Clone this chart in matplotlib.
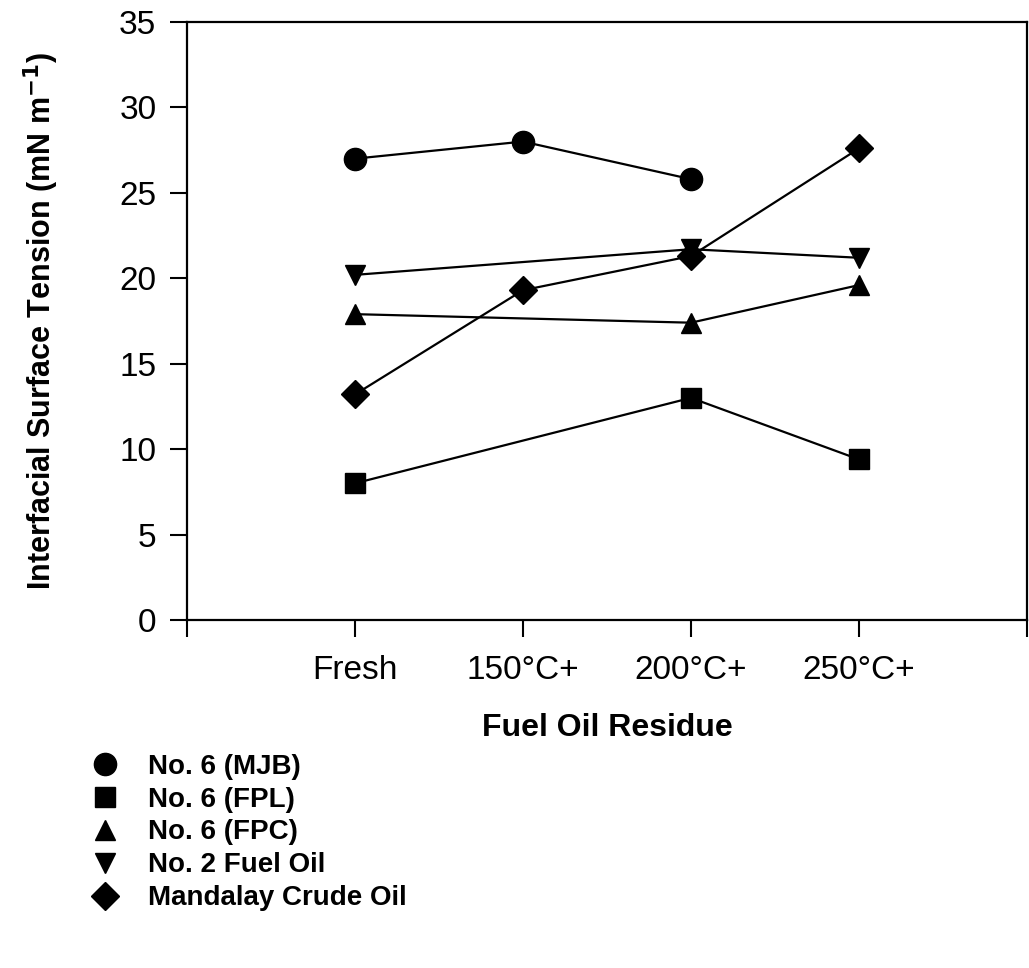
import matplotlib.pyplot as plt
from matplotlib.lines import Line2D
import numpy as np

plt.rcParams['font.family'] = ['Liberation Sans', 'DejaVu Sans']

# categories on the x axis (positions 1..4)
categories = ['Fresh', '150°C+', '200°C+', '250°C+']

# interfacial surface tension values (nan = not measured)
mjb = [27.0, 28.0, 25.8, np.nan]
fpl = [8.0, np.nan, 13.0, 9.4]
fpc = [17.9, np.nan, 17.4, 19.6]
no2 = [20.2, np.nan, 21.7, 21.2]
mandalay = [13.2, 19.3, 21.3, 27.6]

series_names = ['No. 6 (MJB)', 'No. 6 (FPL)', 'No. 6 (FPC)', 'No. 2 Fuel Oil', 'Mandalay Crude Oil']
series_values = [mjb, fpl, fpc, no2, mandalay]
markers = ['o', 's', '^', 'v', 'D']
msizes = [16, 14, 15, 15, 14]

fig = plt.figure(figsize=(10.29, 9.68), dpi=100)
ax = fig.add_axes([0.1817, 0.3595, 0.8163, 0.6178])

x = np.arange(1, len(categories) + 1)
for vals, mk, ms in zip(series_values, markers, msizes):
    v = np.array(vals, dtype=float)
    ok = ~np.isnan(v)
    # line connects only measured points
    ax.plot(x[ok], v[ok], color='black', lw=1.6, marker=mk, ms=ms,
            markerfacecolor='black', markeredgecolor='black', zorder=3)

ax.set_xlim(0, 5)
ax.set_ylim(0, 35)
ax.set_xticks(np.arange(0, 6))
ax.set_xticklabels([''] + categories + [''])
ax.set_yticks(np.arange(0, 36, 5))
ax.tick_params(axis='both', direction='out', length=12, width=1.5)
ax.tick_params(axis='x', pad=13, labelsize=24)
ax.tick_params(axis='y', pad=10, labelsize=24)
for s in ax.spines.values():
    s.set_linewidth(1.6)

ax.set_xlabel('Fuel Oil Residue', fontsize=23, fontweight='bold')
ax.xaxis.set_label_coords(0.5, -0.155)
ax.set_ylabel('Interfacial Surface Tension (mN m$^{\\mathbf{-1}}$)', fontsize=22,
              fontweight='bold')
ax.yaxis.set_label_coords(-0.15, 0.5)

handles = [Line2D([], [], marker=mk, ls='none', color='black', ms=ms)
           for mk, ms in zip(markers, msizes)]
fig.legend(handles, series_names, loc='upper left', bbox_to_anchor=(0.0899, 0.2215),
           frameon=False, prop={'weight': 'bold', 'size': 20},
           handlelength=0.9, handletextpad=1.1, borderpad=0, borderaxespad=0,
           labelspacing=0.25)

fig.savefig('out.png', dpi=100)
